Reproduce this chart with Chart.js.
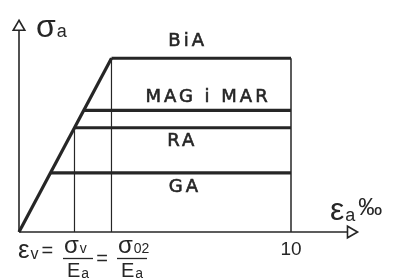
<!DOCTYPE html>
<html lang="hr">
<head>
    <meta charset="UTF-8">
    <title>σa - εa</title>
    <script src="https://cdn.jsdelivr.net/npm/chart.js"></script>
    <style>
        body { margin: 0; padding: 0; background: #fff; }
    </style>
</head>
<body>
    <canvas id="myChart" width="393" height="280"></canvas>
    <script>
        // postupci zavarivanja i njihove razine naprezanja (relativno, BiA = 100)
        const categories = ['BiA', 'MAG i MAR', 'RA', 'GA'];
        const stressLevels = [100, 70, 60, 34];
        const yieldStrains = [3.4, 2.38, 2.04, 1.16];   // početak platoa na pravcu
        const strainEnd = 10;                           // kraj platoa, ‰
        const xTicks = [10];
        const axisEnd = { x: 12.2, y: 118 };

        const ink = '#262626';
        const font = '"Liberation Sans", sans-serif';
        const labelFont = '"DejaVu Sans", sans-serif';

        // pomaci natpisa (px) od njihove linije
        const labelX = [6.2, 6.95, 6.0, 6.1];
        const labelDy = [-16.5, -13.5, 14, 14];

        const datasets = [];
        // osi sa strelicama
        datasets.push({
            data: [{x: 0, y: 0}, {x: axisEnd.x, y: 0}],
            borderWidth: 1.6,
            pointRadius: [0, 6.7], pointStyle: 'triangle', pointRotation: 90,
            pointBackgroundColor: '#fff', pointBorderWidth: 1.6
        });
        datasets.push({
            data: [{x: 0, y: 0}, {x: 0, y: axisEnd.y}],
            borderWidth: 1.6,
            pointRadius: [0, 6.7], pointStyle: 'triangle', pointRotation: 0,
            pointBackgroundColor: '#fff', pointBorderWidth: 1.6
        });
        // tanke vertikale
        datasets.push({ data: [{x: strainEnd, y: 0}, {x: strainEnd, y: stressLevels[0]}], borderWidth: 1.5 });
        datasets.push({ data: [{x: yieldStrains[0], y: 0}, {x: yieldStrains[0], y: stressLevels[0]}], borderWidth: 1.2 });
        datasets.push({ data: [{x: yieldStrains[2], y: 0}, {x: yieldStrains[2], y: stressLevels[2]}], borderWidth: 1.2 });
        // elasticni pravac
        datasets.push({ data: [{x: 0, y: 0}, {x: yieldStrains[0], y: stressLevels[0]}], borderWidth: 3.2 });
        // platoi
        categories.forEach((c, i) => {
            datasets.push({
                label: c,
                data: [{x: yieldStrains[i], y: stressLevels[i]}, {x: strainEnd, y: stressLevels[i]}],
                borderWidth: 3.2
            });
        });
        datasets.forEach(d => {
            d.showLine = true;
            d.borderColor = ink;
            d.pointBorderColor = ink;
            d.clip = false;
            if (d.pointRadius === undefined) d.pointRadius = 0;
        });

        function sub(ctx, main, s, x, y, size, subSize, dy) {
            ctx.font = size + 'px ' + font;
            ctx.textAlign = 'left';
            ctx.fillText(main, x, y);
            const w = ctx.measureText(main).width;
            ctx.font = subSize + 'px ' + font;
            ctx.fillText(s, x + w + 1, y + dy);
            return x + w + 1 + ctx.measureText(s).width;
        }

        const labelsPlugin = {
            id: 'labelsPlugin',
            afterDraw(chart) {
                const ctx = chart.ctx;
                const x = chart.scales.x, y = chart.scales.y;
                ctx.save();
                ctx.fillStyle = ink;
                ctx.strokeStyle = ink;
                ctx.textBaseline = 'middle';

                // natpisi postupaka (malo podebljani)
                ctx.textAlign = 'center';
                ctx.font = '18px ' + labelFont;
                ctx.letterSpacing = '3px';
                ctx.lineWidth = 0.6;
                categories.forEach((c, i) => {
                    const lx = x.getPixelForValue(labelX[i]);
                    const ly = y.getPixelForValue(stressLevels[i]) + labelDy[i];
                    ctx.fillText(c, lx, ly);
                    ctx.strokeText(c, lx, ly);
                });
                ctx.letterSpacing = '0px';

                // oznaka na osi x
                ctx.font = '19px ' + font;
                xTicks.forEach(t => ctx.fillText(String(t), x.getPixelForValue(t), y.getPixelForValue(0) + 18));

                // naziv osi y
                sub(ctx, 'σ', 'a', 36, 28, 32, 18, 4);
                // naziv osi x
                let px = sub(ctx, 'ε', 'a', 330, 211, 32, 18, 5);
                ctx.font = '24px ' + font;
                ctx.fillText('‰', px + 3, 208);

                // formula ispod osi
                px = sub(ctx, 'ε', 'v', 18, 251, 26, 16, 4);
                ctx.font = '20px ' + font;
                ctx.fillText('=', px + 3, 251);

                const fraction = (cx, num, numSub, den, denSub) => {
                    ctx.lineWidth = 1.3;
                    ctx.beginPath();
                    ctx.moveTo(cx - 15, 258.5);
                    ctx.lineTo(cx + 15, 258.5);
                    ctx.stroke();
                    sub(ctx, num, numSub, cx - 14, 246, 24, 14, 3);
                    sub(ctx, den, denSub, cx - 11, 271, 20, 14, 3);
                };
                fraction(78, 'σ', 'v', 'E', 'a');
                ctx.font = '20px ' + font;
                ctx.textAlign = 'center';
                ctx.fillText('=', 102, 259);
                fraction(132, 'σ', '02', 'E', 'a');
                ctx.restore();
            }
        };

        new Chart(document.getElementById('myChart'), {
            type: 'scatter',
            data: { datasets: datasets },
            options: {
                responsive: false,
                animation: false,
                devicePixelRatio: 1,
                layout: { padding: { left: 19, right: 34, top: 20, bottom: 48 } },
                plugins: { legend: { display: false }, tooltip: { enabled: false } },
                scales: {
                    x: { type: 'linear', min: 0, max: 12.5, display: false },
                    y: { type: 'linear', min: 0, max: 122, display: false }
                }
            },
            plugins: [labelsPlugin]
        });
    </script>
</body>
</html>
